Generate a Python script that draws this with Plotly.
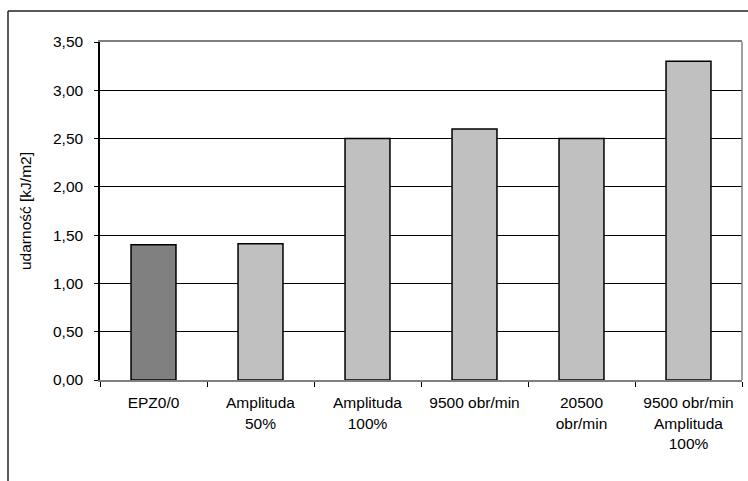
import plotly.graph_objects as go

categories = ["EPZ0/0", "Amplituda<br>50%", "Amplituda<br>100%", "9500 obr/min",
              "20500<br>obr/min", "9500 obr/min<br>Amplituda<br>100%"]
values = [1.40, 1.41, 2.50, 2.60, 2.50, 3.30]
bar_colors = ["#808080", "#c0c0c0", "#c0c0c0", "#c0c0c0", "#c0c0c0", "#c0c0c0"]
y_ticks = [0, 0.5, 1.0, 1.5, 2.0, 2.5, 3.0, 3.5]

font = "Liberation Sans, Arial, sans-serif"
fs = 15.5

fig = go.Figure(go.Bar(
    x=categories, y=values,
    marker=dict(color=bar_colors, line=dict(color="#000000", width=1.5)),
    width=0.42,
))

W, H = 748, 481
ml, mr, mt, mb = 100, 6, 42, 101
pw, ph = W - ml - mr, H - mt - mb

fig.update_layout(
    width=W, height=H,
    margin=dict(l=ml, r=mr, t=mt, b=mb),
    paper_bgcolor="white", plot_bgcolor="white",
    separators=", ",
    showlegend=False,
    font=dict(family=font, size=fs, color="#000000"),
    xaxis=dict(
        type="category",
        showline=True, linecolor="#808080", linewidth=1.5, mirror=True,
        ticks="outside", tickson="boundaries", ticklen=5, tickcolor="#000000",
        showgrid=False,
        ticklabelstandoff=8,
        tickfont=dict(family=font, size=fs),
    ),
    yaxis=dict(
        range=[0, 3.5], tickvals=y_ticks, tickformat=".2f",
        showline=True, linecolor="#000000", linewidth=1.5,
        ticks="outside", ticklen=4, tickcolor="#000000",
        showgrid=True, gridcolor="#000000", gridwidth=1,
        zeroline=False,
        ticklabelstandoff=8,
        tickfont=dict(family=font, size=fs),
        title=dict(text="udarność [kJ/m2]", standoff=18,
                   font=dict(family=font, size=fs)),
    ),
)

# right edge of the plot frame
fig.add_shape(type="line", xref="paper", yref="paper", x0=1, x1=1, y0=0, y1=1,
              line=dict(color="#808080", width=1.5))

# outer chart frame (left and top edges)
fx = (8 - ml) / pw
fy = 1 + (mt - 11) / ph
fig.add_shape(type="line", xref="paper", yref="paper", x0=fx, x1=fx, y0=fy, y1=-0.5,
              line=dict(color="#222222", width=1.5))
fig.add_shape(type="line", xref="paper", yref="paper", x0=fx, x1=1.2, y0=fy, y1=fy,
              line=dict(color="#222222", width=1.5))

fig.write_html("out.html")
